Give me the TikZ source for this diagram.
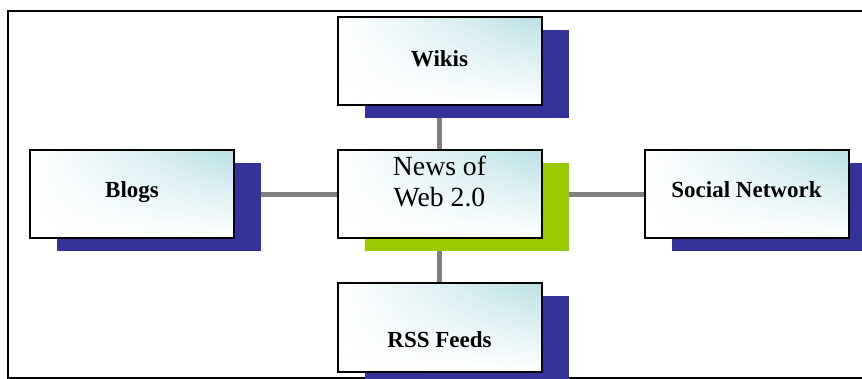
\documentclass[tikz,border=0pt]{standalone}
\usepackage{fontspec}
\setmainfont{Liberation Serif}
\usetikzlibrary{shadows,backgrounds,shadings}
\definecolor{shblue}{RGB}{51,51,153}
\definecolor{shgreen}{RGB}{153,204,0}
\definecolor{conncol}{RGB}{128,128,128}
\definecolor{gradc}{RGB}{186,225,229}
\begin{document}
\begin{tikzpicture}[x=1pt,y=-1pt,
  box/.style={draw=black, line width=2pt, minimum width=204pt, minimum height=88pt,
    inner sep=0pt, upper right=gradc, upper left=white, lower left=white, lower right=white,
    font=\fontsize{23}{27}\selectfont\bfseries},
  blueshadow/.style={general shadow={fill=shblue, shadow xshift=27pt, shadow yshift=-13pt}},
  greenshadow/.style={general shadow={fill=shgreen, shadow xshift=27pt, shadow yshift=-13pt}},
  connline/.style={draw=conncol, line width=5.5pt},
  frameline/.style={draw=black, line width=2pt}]
\useasboundingbox (0,0) rectangle (862,379);
\begin{scope}
\clip (0,0) rectangle (862,379);
\draw[frameline] (870,11) -- (7.7,11) -- (7.7,377.7) -- (870,377.7);
\node[box, blueshadow] (wikis) at (439.5,61) {\raisebox{-6pt}[0pt][0pt]{Wikis}};
\node[box, blueshadow] (blogs) at (132,194.5) {\raisebox{-3.5pt}[0pt][0pt]{Blogs}};
\node[box, blueshadow] (social) at (746.5,194.5) {\raisebox{-3.5pt}[0pt][0pt]{Social Network}};
\node[box, blueshadow] (rss) at (439.5,327.5) {\raisebox{-19.5pt}[0pt][0pt]{RSS Feeds}};
\node[box, greenshadow, font=\fontsize{27.7}{31}\selectfont] (news) at (439.5,194.5)
  {\raisebox{-12.5pt}[0pt][0pt]{\begin{tabular}[b]{@{}c@{}}News of\\Web 2.0\end{tabular}}};
\end{scope}
\begin{scope}[on background layer]
\draw[connline] (blogs) -- (news);
\draw[connline] (news) -- (social);
\draw[connline] (wikis) -- (news);
\draw[connline] (news) -- (rss);
\end{scope}
\end{tikzpicture}
\end{document}
